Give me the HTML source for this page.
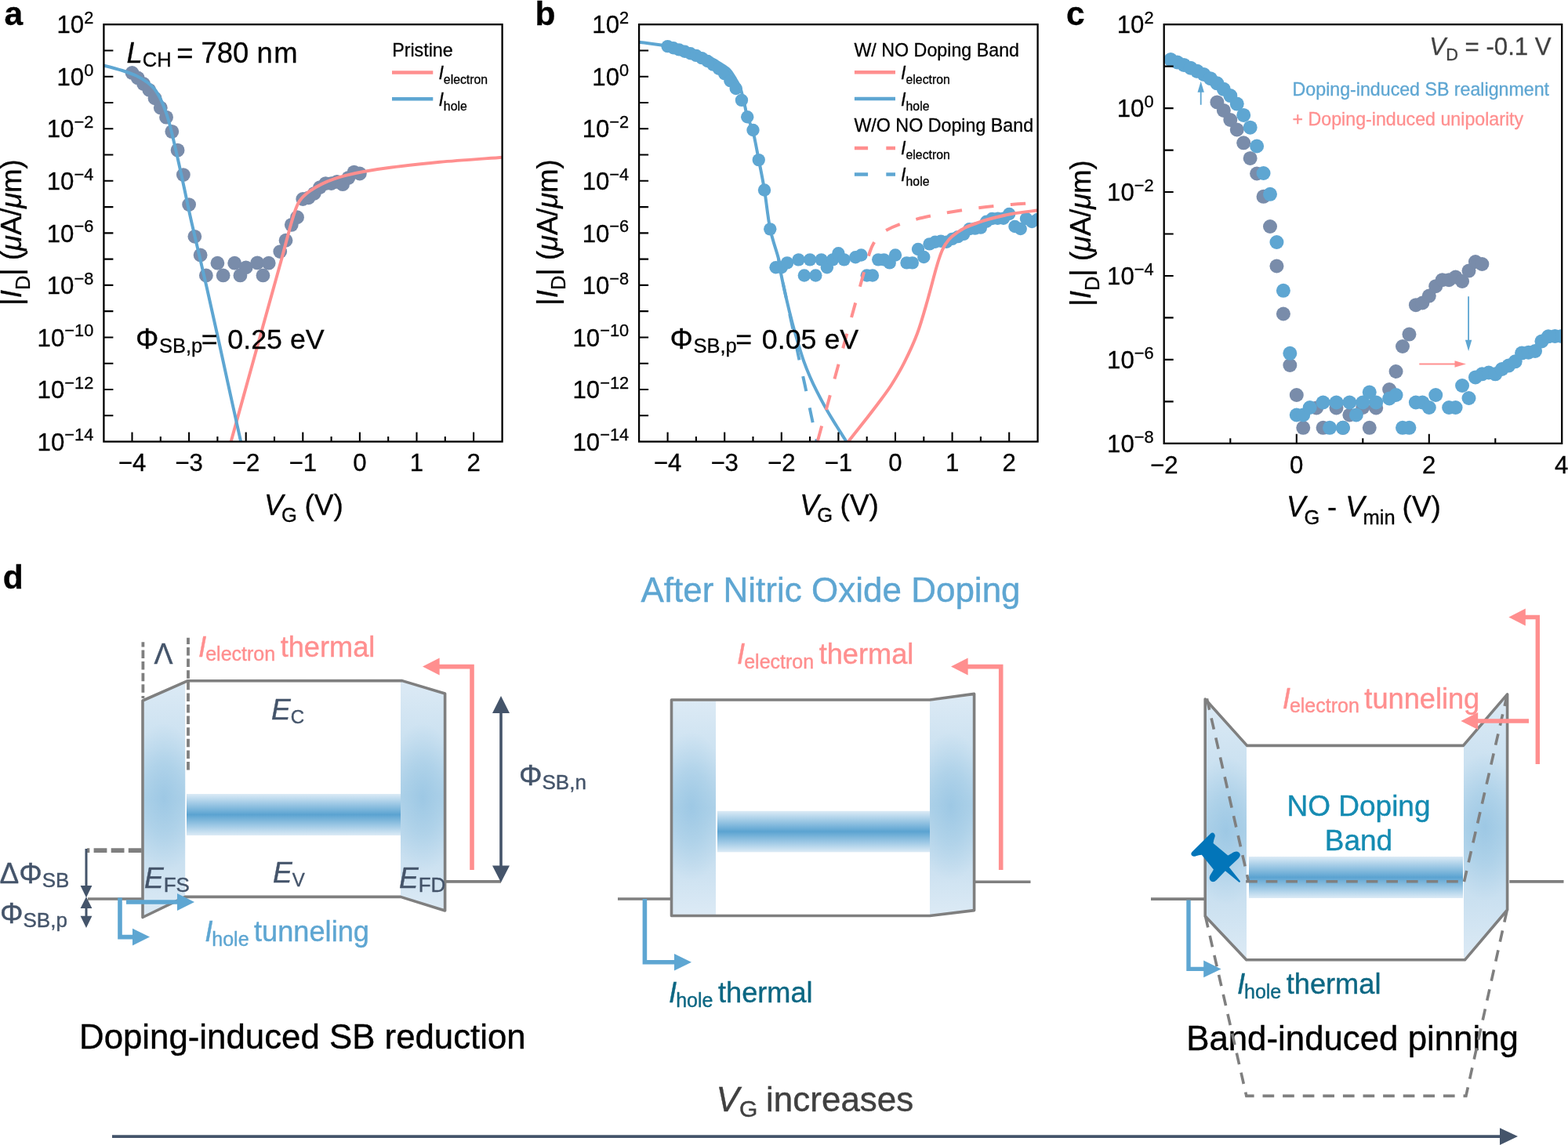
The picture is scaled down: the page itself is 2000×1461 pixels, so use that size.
<!DOCTYPE html>
<html lang="en"><head><meta charset="utf-8"><title>Figure</title>
<style>html,body{margin:0;padding:0;background:#fff}svg{display:block}text{font-family:'Liberation Sans', Arial, Helvetica, sans-serif;}</style></head><body>
<svg xmlns="http://www.w3.org/2000/svg" width="2000" height="1461" viewBox="0 0 2000 1461">
<defs>
<linearGradient id="band" x1="0" y1="0" x2="0" y2="1"><stop offset="0" stop-color="#DCEBF6"/><stop offset="0.22" stop-color="#A2CBE6"/><stop offset="0.5" stop-color="#5BA3D1"/><stop offset="0.78" stop-color="#A2CBE6"/><stop offset="1" stop-color="#DCEBF6"/></linearGradient>
<linearGradient id="cont" x1="0" y1="0" x2="0" y2="1"><stop offset="0" stop-color="#DCEAF5"/><stop offset="0.28" stop-color="#C9E0F0"/><stop offset="0.5" stop-color="#B3D4EA"/><stop offset="0.72" stop-color="#C6DEEF"/><stop offset="1" stop-color="#DCEAF5"/></linearGradient>
<radialGradient id="spot" cx="0.5" cy="0.5" r="0.5"><stop offset="0" stop-color="#98C5E3" stop-opacity="0.8"/><stop offset="0.5" stop-color="#9CC8E4" stop-opacity="0.45"/><stop offset="1" stop-color="#A4CCE6" stop-opacity="0"/></radialGradient>
<clipPath id="clipA"><rect x="132.4" y="31.2" width="508.2" height="532.3"/></clipPath>
<clipPath id="clipB"><rect x="815.1" y="31.2" width="508.5" height="532.3"/></clipPath>
<clipPath id="clipC"><rect x="1484.7" y="31.2" width="507.5" height="534.6"/></clipPath>
</defs>
<rect width="2000" height="1461" fill="#fff"/>
<g id="panel-a">
<g fill="#798CAA" clip-path="url(#clipA)">
<circle cx="168.5" cy="92.94" r="8.9"/><circle cx="175.76" cy="99.47" r="8.9"/><circle cx="183.02" cy="107" r="8.9"/><circle cx="190.28" cy="114.78" r="8.9"/><circle cx="197.54" cy="125.23" r="8.9"/><circle cx="204.8" cy="137.43" r="8.9"/><circle cx="212.06" cy="149.63" r="8.9"/><circle cx="219.32" cy="167.86" r="8.9"/><circle cx="226.58" cy="191.64" r="8.9"/><circle cx="233.84" cy="223.07" r="8.9"/><circle cx="241.1" cy="261.03" r="8.9"/><circle cx="248.36" cy="301.79" r="8.9"/><circle cx="255.62" cy="325.44" r="8.9"/><circle cx="262.88" cy="351.45" r="8.9"/><circle cx="277.4" cy="335.71" r="8.9"/><circle cx="284.66" cy="351.45" r="8.9"/><circle cx="299.18" cy="335.71" r="8.9"/><circle cx="306.44" cy="351.45" r="8.9"/><circle cx="313.7" cy="341.31" r="8.9"/><circle cx="328.22" cy="335.4" r="8.9"/><circle cx="335.48" cy="351.45" r="8.9"/><circle cx="342.74" cy="335.71" r="8.9"/><circle cx="357.26" cy="321.08" r="8.9"/><circle cx="364.52" cy="306.77" r="8.9"/><circle cx="371.78" cy="286.85" r="8.9"/><circle cx="379.04" cy="277.27" r="8.9"/><circle cx="386.3" cy="254" r="8.9"/><circle cx="393.56" cy="252.32" r="8.9"/><circle cx="400.82" cy="246.78" r="8.9"/><circle cx="408.08" cy="239.06" r="8.9"/><circle cx="415.34" cy="234.08" r="8.9"/><circle cx="422.6" cy="234.08" r="8.9"/><circle cx="429.86" cy="231.84" r="8.9"/><circle cx="437.12" cy="235.2" r="8.9"/><circle cx="444.38" cy="226.86" r="8.9"/><circle cx="451.64" cy="219.64" r="8.9"/><circle cx="458.9" cy="221.51" r="8.9"/>
</g>
<g clip-path="url(#clipA)" fill="none" stroke-width="4" stroke-linejoin="round">
<path d="M290,580 C290.77,577.25 290.35,578.83 294.6,563.5 C298.85,548.17 307.95,515.25 315.5,488 C323.05,460.75 334.05,421.08 339.9,400 C345.75,378.92 347.32,373.33 350.6,361.5 C353.88,349.67 357.08,338.25 359.6,329 C362.12,319.75 363.68,313.5 365.7,306 C367.72,298.5 369.95,290.08 371.7,284 C373.45,277.92 374.7,273.7 376.2,269.5 C377.7,265.3 378.95,261.92 380.7,258.8 C382.45,255.68 384.18,253.38 386.7,250.8 C389.22,248.22 391.78,246 395.8,243.3 C399.82,240.6 405.78,237.08 410.8,234.6 C415.82,232.12 420.87,230.18 425.9,228.4 C430.93,226.62 434.72,225.47 441,223.9 C447.28,222.33 453.82,220.72 463.6,219 C473.38,217.28 483.47,215.63 499.7,213.6 C515.93,211.57 537.45,208.95 561,206.8 C584.55,204.65 624.5,202 641,200.7 C657.5,199.4 656.83,199.28 660,199" stroke="#FF8F8F"/>
<path d="M125,82.2 C126.42,82.48 128.33,82.6 133.5,83.9 C138.67,85.2 149.25,87.85 156,90 C162.75,92.15 168.6,94.25 174,96.8 C179.4,99.35 184.5,102.43 188.4,105.3 C192.3,108.17 194.7,110.55 197.4,114 C200.1,117.45 202.5,121.92 204.6,126 C206.7,130.08 208.2,133.67 210,138.5 C211.8,143.33 213.6,148.67 215.4,155 C217.2,161.33 218.7,167.67 220.8,176.5 C222.9,185.33 225.6,197.25 228,208 C230.4,218.75 232.5,228.5 235.2,241 C237.9,253.5 239.4,261.83 244.2,283 C249,304.17 257.95,341.5 264,368 C270.05,394.5 275.5,419.33 280.5,442 C285.5,464.67 289.55,483.72 294,504 C298.45,524.28 304.37,550.87 307.2,563.7 C310.03,576.53 310.37,578.12 311,581" stroke="#5EA6D2"/>
</g>
<path d="M168.5,563.5 v-12 M241.1,563.5 v-12 M313.7,563.5 v-12 M386.3,563.5 v-12 M458.9,563.5 v-12 M531.5,563.5 v-12 M604.1,563.5 v-12 M204.8,563.5 v-6.5 M277.4,563.5 v-6.5 M350,563.5 v-6.5 M422.6,563.5 v-6.5 M495.2,563.5 v-6.5 M567.8,563.5 v-6.5 M132.4,64.47 h12 M132.4,97.74 h12 M132.4,131.01 h12 M132.4,164.28 h12 M132.4,197.55 h12 M132.4,230.82 h12 M132.4,264.09 h12 M132.4,297.36 h12 M132.4,330.63 h12 M132.4,363.9 h12 M132.4,397.17 h12 M132.4,430.44 h12 M132.4,463.71 h12 M132.4,496.98 h12 M132.4,530.25 h12" stroke="#000" stroke-width="2.1" fill="none"/>
<rect x="132.4" y="31.2" width="508.2" height="532.3" fill="none" stroke="#000" stroke-width="2.3"/>
<text x="119.3" y="42.4" font-size="31.2" text-anchor="end" stroke="#000" stroke-width="0.3">10<tspan font-size="21.8" dy="-12.4">2</tspan></text>
<text x="119.3" y="108.94" font-size="31.2" text-anchor="end" stroke="#000" stroke-width="0.3">10<tspan font-size="21.8" dy="-12.4">0</tspan></text>
<text x="119.3" y="175.48" font-size="31.2" text-anchor="end" stroke="#000" stroke-width="0.3">10<tspan font-size="21.8" dy="-12.4">−2</tspan></text>
<text x="119.3" y="242.02" font-size="31.2" text-anchor="end" stroke="#000" stroke-width="0.3">10<tspan font-size="21.8" dy="-12.4">−4</tspan></text>
<text x="119.3" y="308.56" font-size="31.2" text-anchor="end" stroke="#000" stroke-width="0.3">10<tspan font-size="21.8" dy="-12.4">−6</tspan></text>
<text x="119.3" y="375.1" font-size="31.2" text-anchor="end" stroke="#000" stroke-width="0.3">10<tspan font-size="21.8" dy="-12.4">−8</tspan></text>
<text x="119.3" y="441.64" font-size="31.2" text-anchor="end" stroke="#000" stroke-width="0.3">10<tspan font-size="21.8" dy="-12.4">−10</tspan></text>
<text x="119.3" y="508.18" font-size="31.2" text-anchor="end" stroke="#000" stroke-width="0.3">10<tspan font-size="21.8" dy="-12.4">−12</tspan></text>
<text x="119.3" y="574.72" font-size="31.2" text-anchor="end" stroke="#000" stroke-width="0.3">10<tspan font-size="21.8" dy="-12.4">−14</tspan></text>
<text x="168.5" y="601.2" font-size="31.2" text-anchor="middle" stroke="#000" stroke-width="0.3">−4</text>
<text x="241.1" y="601.2" font-size="31.2" text-anchor="middle" stroke="#000" stroke-width="0.3">−3</text>
<text x="313.7" y="601.2" font-size="31.2" text-anchor="middle" stroke="#000" stroke-width="0.3">−2</text>
<text x="386.3" y="601.2" font-size="31.2" text-anchor="middle" stroke="#000" stroke-width="0.3">−1</text>
<text x="458.9" y="601.2" font-size="31.2" text-anchor="middle" stroke="#000" stroke-width="0.3">0</text>
<text x="531.5" y="601.2" font-size="31.2" text-anchor="middle" stroke="#000" stroke-width="0.3">1</text>
<text x="604.1" y="601.2" font-size="31.2" text-anchor="middle" stroke="#000" stroke-width="0.3">2</text>
<text transform="translate(27.2,296.5) rotate(-90)" font-size="36.4" text-anchor="middle" stroke="#000" stroke-width="0.3">|<tspan font-style="italic">I</tspan><tspan font-size="25.5" dy="10.5">D</tspan><tspan dy="-10.5">| (</tspan><tspan font-style="italic">μ</tspan>A/<tspan font-style="italic">μ</tspan>m)</text>
<text x="337.1" y="657" font-size="36.4" stroke="#000" stroke-width="0.3"><tspan font-style="italic">V</tspan><tspan font-size="25.5" dy="9.3" dx="-2.3">G</tspan><tspan font-size="37" dy="-9.3" dx="-0.7"> (V)</tspan></text>
<text x="5.4" y="32" font-size="42.5" font-weight="bold" stroke="#000" stroke-width="0.3">a</text>
<text x="161.6" y="79.6" font-size="36.4" stroke="#000" stroke-width="0.3"><tspan font-style="italic">L</tspan><tspan font-size="25.5" dy="5.4">CH</tspan><tspan dy="-5.4" dx="6.5">= 780 n</tspan><tspan dx="1.5">m</tspan></text>
<text x="173.1" y="445.3" font-size="36.8" stroke="#000" stroke-width="0.3">Φ<tspan font-size="25.5" dy="4.8" dx="0.5">SB,p</tspan><tspan font-size="35.8" dy="-4.8" dx="-1.4">= </tspan><tspan font-size="35.8" dx="2.6">0.25 eV</tspan></text>
<text x="500.2" y="71.7" font-size="23.25" stroke="#000" stroke-width="0.3">Pristine</text>
<path d="M500,92.4 h52.3" stroke="#FF8F8F" stroke-width="4.5"/>
<path d="M500,126.2 h52.3" stroke="#5EA6D2" stroke-width="4.5"/>
<text x="559.4" y="101.2" font-size="23.25" stroke="#000" stroke-width="0.3"><tspan font-style="italic">I</tspan><tspan font-size="15.8" dy="5.8">electron</tspan></text>
<text x="559.4" y="135.0" font-size="23.25" stroke="#000" stroke-width="0.3"><tspan font-style="italic">I</tspan><tspan font-size="15.8" dy="5.8">hole</tspan></text>
</g>
<g id="panel-b">
<g fill="#5EA6D2" clip-path="url(#clipB)">
<circle cx="851.6" cy="59.14" r="8.2"/><circle cx="858.86" cy="61.26" r="8.2"/><circle cx="866.12" cy="63.37" r="8.2"/><circle cx="873.38" cy="65.74" r="8.2"/><circle cx="880.64" cy="68.29" r="8.2"/><circle cx="887.9" cy="70.9" r="8.2"/><circle cx="895.16" cy="74.14" r="8.2"/><circle cx="902.42" cy="77.94" r="8.2"/><circle cx="909.68" cy="82.6" r="8.2"/><circle cx="916.94" cy="87.77" r="8.2"/><circle cx="924.2" cy="94.3" r="8.2"/><circle cx="931.46" cy="103.2" r="8.2"/><circle cx="938.72" cy="113.04" r="8.2"/><circle cx="945.98" cy="127.85" r="8.2"/><circle cx="953.24" cy="149.32" r="8.2"/><circle cx="960.5" cy="166" r="8.2"/><circle cx="967.76" cy="204.08" r="8.2"/><circle cx="975.02" cy="242.54" r="8.2"/><circle cx="982.28" cy="292.33" r="8.2"/><circle cx="989.54" cy="341.31" r="8.2"/><circle cx="996.8" cy="341.31" r="8.2"/><circle cx="1004.06" cy="335.4" r="8.2"/><circle cx="1018.58" cy="331.35" r="8.2"/><circle cx="1025.84" cy="351.45" r="8.2"/><circle cx="1033.1" cy="331.35" r="8.2"/><circle cx="1040.36" cy="351.45" r="8.2"/><circle cx="1047.62" cy="331.35" r="8.2"/><circle cx="1054.88" cy="341.31" r="8.2"/><circle cx="1062.14" cy="331.35" r="8.2"/><circle cx="1069.4" cy="323.26" r="8.2"/><circle cx="1076.66" cy="331.35" r="8.2"/><circle cx="1091.18" cy="328.24" r="8.2"/><circle cx="1098.44" cy="325.44" r="8.2"/><circle cx="1105.7" cy="351.45" r="8.2"/><circle cx="1112.96" cy="351.45" r="8.2"/><circle cx="1120.22" cy="331.35" r="8.2"/><circle cx="1127.48" cy="331.35" r="8.2"/><circle cx="1134.74" cy="335.4" r="8.2"/><circle cx="1142" cy="325.44" r="8.2"/><circle cx="1156.52" cy="335.4" r="8.2"/><circle cx="1163.78" cy="335.4" r="8.2"/><circle cx="1171.04" cy="317.97" r="8.2"/><circle cx="1178.3" cy="327.93" r="8.2"/><circle cx="1185.56" cy="311.37" r="8.2"/><circle cx="1192.82" cy="308.82" r="8.2"/><circle cx="1200.08" cy="307.7" r="8.2"/><circle cx="1207.34" cy="308.82" r="8.2"/><circle cx="1214.6" cy="304.9" r="8.2"/><circle cx="1221.86" cy="302.16" r="8.2"/><circle cx="1229.12" cy="298.87" r="8.2"/><circle cx="1236.38" cy="292.21" r="8.2"/><circle cx="1243.64" cy="291.65" r="8.2"/><circle cx="1250.9" cy="290.59" r="8.2"/><circle cx="1258.16" cy="282.81" r="8.2"/><circle cx="1265.42" cy="278.95" r="8.2"/><circle cx="1272.68" cy="278.7" r="8.2"/><circle cx="1279.94" cy="278.7" r="8.2"/><circle cx="1287.2" cy="273" r="8.2"/><circle cx="1294.46" cy="289" r="8.2"/><circle cx="1301.72" cy="292" r="8.2"/><circle cx="1308.98" cy="279" r="8.2"/><circle cx="1316.24" cy="283" r="8.2"/><circle cx="1323.5" cy="280" r="8.2"/>
</g>
<g clip-path="url(#clipB)" fill="none" stroke-width="4" stroke-linejoin="round">
<path d="M993,330 C993.48,333 994.23,339.5 995.9,348 C997.57,356.5 1000.65,370.08 1003,381 C1005.35,391.92 1008.08,404.5 1010,413.5 C1011.92,422.5 1013.02,427.83 1014.5,435 C1015.98,442.17 1016.95,447.45 1018.9,456.5 C1020.85,465.55 1023.6,477.25 1026.2,489.3 C1028.8,501.35 1031.9,516.43 1034.5,528.8 C1037.1,541.17 1040.05,555.13 1041.8,563.5 C1043.55,571.87 1044.47,576.42 1045,579" stroke="#5EA6D2" stroke-dasharray="19.3 21.4" stroke-dashoffset="9.25"/>
<path d="M805,52.3 C806.67,52.53 807.23,52.67 815,53.7 C822.77,54.73 841.6,57.03 851.6,58.5 C861.6,59.97 868.93,61.22 875,62.5 C881.07,63.78 883.73,64.78 888,66.2 C892.27,67.62 897.08,69.48 900.6,71 C904.12,72.52 906.03,73.6 909.1,75.3 C912.17,77 915.74,79.17 919,81.2 C922.26,83.23 926.25,85.51 928.65,87.5 C931.05,89.49 931.79,90.9 933.4,93.15 C935.01,95.4 937,98.88 938.3,101 C939.6,103.12 940.15,103.87 941.2,105.9 C942.25,107.93 943.55,110.18 944.6,113.2 C945.65,116.22 946.52,120.03 947.5,124 C948.48,127.97 949.53,132.78 950.5,137 C951.47,141.22 951.63,144.13 953.3,149.3 C954.97,154.47 958.08,158.88 960.5,168 C962.92,177.12 965.38,191.67 967.8,204 C970.22,216.33 972.58,227.33 975,242 C977.42,256.67 979.3,277.33 982.3,292 C985.3,306.67 990.73,320.67 993,330 C995.27,339.33 994.23,339.5 995.9,348 C997.57,356.5 1000.55,370.32 1003,381 C1005.45,391.68 1008.1,402.6 1010.6,412.1 C1013.1,421.6 1015.53,429.78 1018,438 C1020.47,446.22 1022.9,454.32 1025.4,461.4 C1027.9,468.48 1030.27,474.2 1033,480.5 C1035.73,486.8 1038.13,491.98 1041.8,499.2 C1045.47,506.42 1050.8,516.42 1055,523.8 C1059.2,531.18 1062.9,536.88 1067,543.5 C1071.1,550.12 1075.93,557.75 1079.6,563.5 C1083.27,569.25 1087.43,575.58 1089,578" stroke="#5EA6D2"/>
<path d="M1038.3,579 C1039.03,576.42 1037.08,584 1042.7,563.5 C1048.32,543 1062.15,491.92 1072,456 C1081.85,420.08 1096.13,368.5 1101.8,348 C1107.47,327.5 1104.63,337.67 1106,333 C1107.37,328.33 1108.67,323.67 1110,320 C1111.33,316.33 1112.17,314.17 1114,311 C1115.83,307.83 1118.33,303.83 1121,301 C1123.67,298.17 1125.5,296.5 1130,294 C1134.5,291.5 1141.33,288.43 1148,286 C1154.67,283.57 1163.33,281.18 1170,279.4 C1176.67,277.62 1181.33,276.7 1188,275.3 C1194.67,273.9 1199.67,272.72 1210,271 C1220.33,269.28 1236.67,266.67 1250,265 C1263.33,263.33 1280,261.9 1290,261 C1300,260.1 1306.67,259.83 1310,259.6" stroke="#FF8F8F" stroke-dasharray="19.3 21.4" stroke-dashoffset="23.15"/>
<path d="M1072,578 C1073.68,575.58 1076.72,570.62 1082.1,563.5 C1087.48,556.38 1097.82,543.63 1104.3,535.3 C1110.78,526.97 1115.53,520.88 1121,513.5 C1126.47,506.12 1131.68,499.52 1137.1,491 C1142.52,482.48 1148.02,473.32 1153.5,462.4 C1158.98,451.48 1165.07,438.73 1170,425.5 C1174.93,412.27 1179.35,395.92 1183.1,383 C1186.85,370.08 1190.1,356.67 1192.5,348 C1194.9,339.33 1196,335.67 1197.5,331 C1199,326.33 1200.08,323.25 1201.5,320 C1202.92,316.75 1203.92,314.5 1206,311.5 C1208.08,308.5 1210,305.42 1214,302 C1218,298.58 1224.83,293.83 1230,291 C1235.17,288.17 1240,286.83 1245,285 C1250,283.17 1252.5,282 1260,280 C1267.5,278 1279.5,274.92 1290,273 C1300.5,271.08 1314.67,269.58 1323,268.5 C1331.33,267.42 1337.17,266.83 1340,266.5" stroke="#FF8F8F"/>
</g>
<path d="M851.6,563.5 v-12 M924.2,563.5 v-12 M996.8,563.5 v-12 M1069.4,563.5 v-12 M1142,563.5 v-12 M1214.6,563.5 v-12 M1287.2,563.5 v-12 M887.9,563.5 v-6.5 M960.5,563.5 v-6.5 M1033.1,563.5 v-6.5 M1105.7,563.5 v-6.5 M1178.3,563.5 v-6.5 M1250.9,563.5 v-6.5 M815.1,64.47 h12 M815.1,97.74 h12 M815.1,131.01 h12 M815.1,164.28 h12 M815.1,197.55 h12 M815.1,230.82 h12 M815.1,264.09 h12 M815.1,297.36 h12 M815.1,330.63 h12 M815.1,363.9 h12 M815.1,397.17 h12 M815.1,430.44 h12 M815.1,463.71 h12 M815.1,496.98 h12 M815.1,530.25 h12" stroke="#000" stroke-width="2.1" fill="none"/>
<rect x="815.1" y="31.2" width="508.5" height="532.3" fill="none" stroke="#000" stroke-width="2.3"/>
<text x="802.2" y="42.4" font-size="31.2" text-anchor="end" stroke="#000" stroke-width="0.3">10<tspan font-size="21.8" dy="-12.4">2</tspan></text>
<text x="802.2" y="108.94" font-size="31.2" text-anchor="end" stroke="#000" stroke-width="0.3">10<tspan font-size="21.8" dy="-12.4">0</tspan></text>
<text x="802.2" y="175.48" font-size="31.2" text-anchor="end" stroke="#000" stroke-width="0.3">10<tspan font-size="21.8" dy="-12.4">−2</tspan></text>
<text x="802.2" y="242.02" font-size="31.2" text-anchor="end" stroke="#000" stroke-width="0.3">10<tspan font-size="21.8" dy="-12.4">−4</tspan></text>
<text x="802.2" y="308.56" font-size="31.2" text-anchor="end" stroke="#000" stroke-width="0.3">10<tspan font-size="21.8" dy="-12.4">−6</tspan></text>
<text x="802.2" y="375.1" font-size="31.2" text-anchor="end" stroke="#000" stroke-width="0.3">10<tspan font-size="21.8" dy="-12.4">−8</tspan></text>
<text x="802.2" y="441.64" font-size="31.2" text-anchor="end" stroke="#000" stroke-width="0.3">10<tspan font-size="21.8" dy="-12.4">−10</tspan></text>
<text x="802.2" y="508.18" font-size="31.2" text-anchor="end" stroke="#000" stroke-width="0.3">10<tspan font-size="21.8" dy="-12.4">−12</tspan></text>
<text x="802.2" y="574.72" font-size="31.2" text-anchor="end" stroke="#000" stroke-width="0.3">10<tspan font-size="21.8" dy="-12.4">−14</tspan></text>
<text x="851.6" y="601.2" font-size="31.2" text-anchor="middle" stroke="#000" stroke-width="0.3">−4</text>
<text x="924.2" y="601.2" font-size="31.2" text-anchor="middle" stroke="#000" stroke-width="0.3">−3</text>
<text x="996.8" y="601.2" font-size="31.2" text-anchor="middle" stroke="#000" stroke-width="0.3">−2</text>
<text x="1069.4" y="601.2" font-size="31.2" text-anchor="middle" stroke="#000" stroke-width="0.3">−1</text>
<text x="1142" y="601.2" font-size="31.2" text-anchor="middle" stroke="#000" stroke-width="0.3">0</text>
<text x="1214.6" y="601.2" font-size="31.2" text-anchor="middle" stroke="#000" stroke-width="0.3">1</text>
<text x="1287.2" y="601.2" font-size="31.2" text-anchor="middle" stroke="#000" stroke-width="0.3">2</text>
<text transform="translate(710.5,296.5) rotate(-90)" font-size="36.4" text-anchor="middle" stroke="#000" stroke-width="0.3">|<tspan font-style="italic">I</tspan><tspan font-size="25.5" dy="10.5">D</tspan><tspan dy="-10.5">| (</tspan><tspan font-style="italic">μ</tspan>A/<tspan font-style="italic">μ</tspan>m)</text>
<text x="1020.2" y="657" font-size="36.4" stroke="#000" stroke-width="0.3"><tspan font-style="italic">V</tspan><tspan font-size="25.5" dy="9.3" dx="-2.3">G</tspan><tspan font-size="37" dy="-9.3" dx="-0.7"> (V)</tspan></text>
<text x="682.5" y="32" font-size="42.5" font-weight="bold" stroke="#000" stroke-width="0.3">b</text>
<text x="854.6" y="445.3" font-size="36.8" stroke="#000" stroke-width="0.3">Φ<tspan font-size="25.5" dy="4.8" dx="0.5">SB,p</tspan><tspan font-size="35.8" dy="-4.8" dx="-1.4">= </tspan><tspan font-size="35.8" dx="2.6">0.05 eV</tspan></text>
<text x="1089.4" y="71.7" font-size="23.25" stroke="#000" stroke-width="0.3">W/ NO Doping Band</text>
<text x="1089.4" y="168.1" font-size="23.25" stroke="#000" stroke-width="0.3">W/O NO Doping Band</text>
<path d="M1089.9,92.2 h52.1" stroke="#FF8F8F" stroke-width="4.5"/>
<path d="M1089.9,126.1 h52.1" stroke="#5EA6D2" stroke-width="4.5"/>
<path d="M1089.9,188.9 h52.1" stroke="#FF8F8F" stroke-width="4.5" stroke-dasharray="17.2 23.2"/>
<path d="M1089.9,222.5 h52.1" stroke="#5EA6D2" stroke-width="4.5" stroke-dasharray="17.2 23.2"/>
<text x="1149.1" y="100.8" font-size="23.25" stroke="#000" stroke-width="0.3"><tspan font-style="italic">I</tspan><tspan font-size="15.8" dy="5.8">electron</tspan></text>
<text x="1149.1" y="134.7" font-size="23.25" stroke="#000" stroke-width="0.3"><tspan font-style="italic">I</tspan><tspan font-size="15.8" dy="5.8">hole</tspan></text>
<text x="1149.1" y="197.2" font-size="23.25" stroke="#000" stroke-width="0.3"><tspan font-style="italic">I</tspan><tspan font-size="15.8" dy="5.8">electron</tspan></text>
<text x="1149.1" y="231" font-size="23.25" stroke="#000" stroke-width="0.3"><tspan font-style="italic">I</tspan><tspan font-size="15.8" dy="5.8">hole</tspan></text>
</g>
<g id="panel-c">
<g fill="#798CAA" clip-path="url(#clipC)">
<circle cx="1552.4" cy="130.4" r="9"/><circle cx="1560.85" cy="140.9" r="9"/><circle cx="1569.3" cy="153" r="9"/><circle cx="1577.75" cy="165.5" r="9"/><circle cx="1586.2" cy="182.3" r="9"/><circle cx="1594.65" cy="201.9" r="9"/><circle cx="1603.1" cy="221.5" r="9"/><circle cx="1611.55" cy="250.8" r="9"/><circle cx="1620" cy="289" r="9"/><circle cx="1628.45" cy="339.5" r="9"/><circle cx="1636.9" cy="400.5" r="9"/><circle cx="1645.35" cy="466" r="9"/><circle cx="1653.8" cy="504" r="9"/><circle cx="1662.25" cy="545.8" r="9"/><circle cx="1679.15" cy="520.5" r="9"/><circle cx="1687.6" cy="545.8" r="9"/><circle cx="1704.5" cy="520.5" r="9"/><circle cx="1712.95" cy="545.8" r="9"/><circle cx="1721.4" cy="529.5" r="9"/><circle cx="1738.3" cy="520" r="9"/><circle cx="1746.75" cy="545.8" r="9"/><circle cx="1755.2" cy="520.5" r="9"/><circle cx="1772.1" cy="497" r="9"/><circle cx="1780.55" cy="474" r="9"/><circle cx="1789" cy="442" r="9"/><circle cx="1797.45" cy="426.6" r="9"/><circle cx="1805.9" cy="389.2" r="9"/><circle cx="1814.35" cy="386.5" r="9"/><circle cx="1822.8" cy="377.6" r="9"/><circle cx="1831.25" cy="365.2" r="9"/><circle cx="1839.7" cy="357.2" r="9"/><circle cx="1848.15" cy="357.2" r="9"/><circle cx="1856.6" cy="353.6" r="9"/><circle cx="1865.05" cy="359" r="9"/><circle cx="1873.5" cy="345.6" r="9"/><circle cx="1881.95" cy="334" r="9"/><circle cx="1890.4" cy="337" r="9"/>
</g>
<g fill="#5EA6D2" clip-path="url(#clipC)">
<circle cx="1493.25" cy="76.1" r="9"/><circle cx="1501.7" cy="79.5" r="9"/><circle cx="1510.15" cy="82.9" r="9"/><circle cx="1518.6" cy="86.7" r="9"/><circle cx="1527.05" cy="90.8" r="9"/><circle cx="1535.5" cy="95" r="9"/><circle cx="1543.95" cy="100.2" r="9"/><circle cx="1552.4" cy="106.3" r="9"/><circle cx="1560.85" cy="113.8" r="9"/><circle cx="1569.3" cy="122.1" r="9"/><circle cx="1577.75" cy="132.6" r="9"/><circle cx="1586.2" cy="146.9" r="9"/><circle cx="1594.65" cy="162.7" r="9"/><circle cx="1603.1" cy="186.5" r="9"/><circle cx="1611.55" cy="221" r="9"/><circle cx="1620" cy="247.8" r="9"/><circle cx="1628.45" cy="309" r="9"/><circle cx="1636.9" cy="370.8" r="9"/><circle cx="1645.35" cy="450.8" r="9"/><circle cx="1653.8" cy="529.5" r="9"/><circle cx="1662.25" cy="529.5" r="9"/><circle cx="1670.7" cy="520" r="9"/><circle cx="1687.6" cy="513.5" r="9"/><circle cx="1696.05" cy="545.8" r="9"/><circle cx="1704.5" cy="513.5" r="9"/><circle cx="1712.95" cy="545.8" r="9"/><circle cx="1721.4" cy="513.5" r="9"/><circle cx="1729.85" cy="529.5" r="9"/><circle cx="1738.3" cy="513.5" r="9"/><circle cx="1746.75" cy="500.5" r="9"/><circle cx="1755.2" cy="513.5" r="9"/><circle cx="1772.1" cy="508.5" r="9"/><circle cx="1780.55" cy="504" r="9"/><circle cx="1789" cy="545.8" r="9"/><circle cx="1797.45" cy="545.8" r="9"/><circle cx="1805.9" cy="513.5" r="9"/><circle cx="1814.35" cy="513.5" r="9"/><circle cx="1822.8" cy="520" r="9"/><circle cx="1831.25" cy="504" r="9"/><circle cx="1848.15" cy="520" r="9"/><circle cx="1856.6" cy="520" r="9"/><circle cx="1865.05" cy="492" r="9"/><circle cx="1873.5" cy="508" r="9"/><circle cx="1881.95" cy="481.4" r="9"/><circle cx="1890.4" cy="477.3" r="9"/><circle cx="1898.85" cy="475.5" r="9"/><circle cx="1907.3" cy="477.3" r="9"/><circle cx="1915.75" cy="471" r="9"/><circle cx="1924.2" cy="466.6" r="9"/><circle cx="1932.65" cy="461.3" r="9"/><circle cx="1941.1" cy="450.6" r="9"/><circle cx="1949.55" cy="449.7" r="9"/><circle cx="1958" cy="448" r="9"/><circle cx="1966.45" cy="435.5" r="9"/><circle cx="1974.9" cy="429.3" r="9"/><circle cx="1983.35" cy="428.9" r="9"/><circle cx="1991.8" cy="428.9" r="9"/>
</g>
<g fill="#5EA6D2" stroke="none">
<path d="M1530.8,133.7 h1.8 v-16 h3.3 l-4.2,-14 l-4.2,14 h3.3 z"/>
<path d="M1872.2,378.2 h1.8 v55.5 h3.3 l-4.2,14.4 l-4.2,-14.4 h3.3 z"/>
</g>
<path d="M1810.3,463.6 h45.2 v-3.3 l14.4,4.2 l-14.4,4.2 v-3.3 h-45.2 z" fill="#FF8F8F"/>
<path d="M1653.8,565.8 v-12 M1822.8,565.8 v-12 M1569.3,565.8 v-6.5 M1738.3,565.8 v-6.5 M1907.3,565.8 v-6.5 M1484.7,84.66 h12 M1484.7,138.12 h12 M1484.7,191.58 h12 M1484.7,245.04 h12 M1484.7,298.5 h12 M1484.7,351.96 h12 M1484.7,405.42 h12 M1484.7,458.88 h12 M1484.7,512.34 h12" stroke="#000" stroke-width="2.1" fill="none"/>
<rect x="1484.7" y="31.2" width="507.5" height="534.6" fill="none" stroke="#000" stroke-width="2.3"/>
<text x="1471.6" y="42.4" font-size="31.2" text-anchor="end" stroke="#000" stroke-width="0.3">10<tspan font-size="21.8" dy="-12.4">2</tspan></text>
<text x="1471.6" y="149.32" font-size="31.2" text-anchor="end" stroke="#000" stroke-width="0.3">10<tspan font-size="21.8" dy="-12.4">0</tspan></text>
<text x="1471.6" y="256.24" font-size="31.2" text-anchor="end" stroke="#000" stroke-width="0.3">10<tspan font-size="21.8" dy="-12.4">−2</tspan></text>
<text x="1471.6" y="363.16" font-size="31.2" text-anchor="end" stroke="#000" stroke-width="0.3">10<tspan font-size="21.8" dy="-12.4">−4</tspan></text>
<text x="1471.6" y="470.08" font-size="31.2" text-anchor="end" stroke="#000" stroke-width="0.3">10<tspan font-size="21.8" dy="-12.4">−6</tspan></text>
<text x="1471.6" y="577" font-size="31.2" text-anchor="end" stroke="#000" stroke-width="0.3">10<tspan font-size="21.8" dy="-12.4">−8</tspan></text>
<text x="1484.8" y="603.6" font-size="31.2" text-anchor="middle" stroke="#000" stroke-width="0.3">−2</text>
<text x="1653.8" y="603.6" font-size="31.2" text-anchor="middle" stroke="#000" stroke-width="0.3">0</text>
<text x="1822.8" y="603.6" font-size="31.2" text-anchor="middle" stroke="#000" stroke-width="0.3">2</text>
<text x="1991.8" y="603.6" font-size="31.2" text-anchor="middle" stroke="#000" stroke-width="0.3">4</text>
<text transform="translate(1391.2,297.5) rotate(-90)" font-size="36.4" text-anchor="middle" stroke="#000" stroke-width="0.3">|<tspan font-style="italic">I</tspan><tspan font-size="25.5" dy="10.5">D</tspan><tspan dy="-10.5">| (</tspan><tspan font-style="italic">μ</tspan>A/<tspan font-style="italic">μ</tspan>m)</text>
<text x="1640.9" y="659" font-size="36.4" stroke="#000" stroke-width="0.3"><tspan font-style="italic">V</tspan><tspan font-size="25.5" dy="9.6" dx="-1.7">G</tspan><tspan dy="-9.6" dx="-0.4"> - </tspan><tspan font-style="italic" dx="1">V</tspan><tspan font-size="25.5" dy="9.6" dx="-2">min</tspan><tspan font-size="37" dy="-9.6" dx="-1.3"> (V)</tspan></text>
<text x="1360" y="32" font-size="42.5" font-weight="bold" stroke="#000" stroke-width="0.3">c</text>
<text x="1978.7" y="69.5" font-size="31.2" fill="#404040" text-anchor="end" stroke="#404040" stroke-width="0.3"><tspan font-style="italic">V</tspan><tspan font-size="21.8" dy="7">D</tspan><tspan dy="-7"> = -0.1 V</tspan></text>
<text x="1648.6" y="122.1" font-size="23.2" fill="#5EA6D2" stroke="#5EA6D2" stroke-width="0.3">Doping-induced SB realignment</text>
<text x="1648.6" y="160" font-size="23.2" fill="#FF8F8F" stroke="#FF8F8F" stroke-width="0.3">+ Doping-induced unipolarity</text>
</g>
<g id="panel-d">
<text x="3.8" y="750.5" font-size="42.5" font-weight="bold" stroke="#000" stroke-width="0.4">d</text>
<text x="1059.5" y="767.8" font-size="44" fill="#5EA6D2" text-anchor="middle" stroke="#5EA6D2" stroke-width="0.4">After Nitric Oxide Doping</text>
<text x="101" y="1338" font-size="43.8" stroke="#000" stroke-width="0.4">Doping-induced SB reduction</text>
<text x="1513.2" y="1340.4" font-size="43.8" stroke="#000" stroke-width="0.4">Band-induced pinning</text>
<text x="913.6" y="1417.8" font-size="44" fill="#404040" stroke="#404040" stroke-width="0.4"><tspan font-style="italic">V</tspan><tspan font-size="30" dy="7.6">G</tspan><tspan dy="-7.6" dx="-1.5"> increases</tspan></text>
<path d="M143,1450.1 H1914" stroke="#44546A" stroke-width="3.6" fill="none"/>
<path d="M1913,1439.2 L1936,1450.1 L1913,1461 z" fill="#44546A"/>
<path d="M183.5,894 L236.2,870 L236.2,1144.5 L183.5,1169.5 z" fill="url(#cont)"/>
<clipPath id="cl133"><path d="M183.5,894 L236.2,870 L236.2,1144.5 L183.5,1169.5 z"/></clipPath>
<ellipse cx="209" cy="1018" rx="46" ry="95" fill="url(#spot)" clip-path="url(#cl133)"/>
<path d="M511,869.5 L566.5,885.5 L566.5,1161.5 L511,1144.5 z" fill="url(#cont)"/>
<clipPath id="cl136"><path d="M511,869.5 L566.5,885.5 L566.5,1161.5 L511,1144.5 z"/></clipPath>
<ellipse cx="539" cy="1018" rx="46" ry="95" fill="url(#spot)" clip-path="url(#cl136)"/>
<rect x="238" y="1013" width="273" height="53" fill="url(#band)"/>
<path d="M182,1170.5 L182,894 L239,868.8 L513,868.6 L567.6,885 L567.6,1162 L511,1144.4 L236,1144.4 z" fill="none" stroke="#7F7F7F" stroke-width="3.6" stroke-linejoin="round"/>
<path d="M182.4,819.2 V891" fill="none" stroke="#7F7F7F" stroke-width="3.8" stroke-dasharray="10.5 4.1" stroke-dashoffset="4.3"/>
<path d="M240,813.7 V984.3" fill="none" stroke="#7F7F7F" stroke-width="3.8" stroke-dasharray="10.5 4.1" stroke-dashoffset="2.3"/>
<path d="M112,1147 H182 M569,1124.9 H639" fill="none" stroke="#7F7F7F" stroke-width="3.6"/>
<path d="M180.6,1085.1 H111" fill="none" stroke="#7F7F7F" stroke-width="5.7" stroke-dasharray="16.8 5.3"/>
<g fill="#44546A" stroke="#44546A">
<path d="M110,1083 V1131" stroke-width="3" fill="none"/>
<path d="M102.6,1129.9 h14.8 L110,1145.2 z" stroke="none"/>
<path d="M110,1158 V1170" stroke-width="3" fill="none"/>
<path d="M102.6,1159 h14.8 L110,1144.2 z M102.6,1168.7 h14.8 L110,1184 z" stroke="none"/>
<path d="M639,908 V1106" stroke-width="3.6" fill="none"/>
<path d="M628,910 h22 L639,888 z M628,1104.4 h22 L639,1126 z" stroke="none"/>
</g>
<path d="M602,1110 V850.6 H559" fill="none" stroke="#FF8F8F" stroke-width="5.6"/>
<path d="M560.6,839.6 v22 L539,850.6 z" fill="#FF8F8F"/>
<path d="M161,1151 H227" fill="none" stroke="#5EA6D2" stroke-width="5.6"/>
<path d="M226,1140 v22 L248,1151 z" fill="#5EA6D2"/>
<path d="M153,1145.6 V1195.6 H170" fill="none" stroke="#5EA6D2" stroke-width="5.6"/>
<path d="M169,1184.8 v21.6 L191,1195.6 z" fill="#5EA6D2"/>
<text x="196.5" y="847" font-size="36" fill="#44546A" stroke="#44546A" stroke-width="0.4">Λ</text>
<text x="253.1" y="837.6" font-size="36.6" fill="#FF8F8F" stroke="#FF8F8F" stroke-width="0.4"><tspan font-style="italic">I</tspan><tspan font-size="25" dy="5.7" dx="-1.07">electron</tspan><tspan font-size="36.2" dy="-5.7" dx="6.5">thermal</tspan></text>
<text x="261.2" y="1201" font-size="36.6" fill="#5EA6D2" stroke="#5EA6D2" stroke-width="0.4"><tspan font-style="italic">I</tspan><tspan font-size="25" dy="5.7" dx="-1.07">hole</tspan><tspan font-size="36.2" dy="-5.7" dx="6.5">tunneling</tspan></text>
<text x="346" y="918" font-size="37" fill="#44546A" stroke="#44546A" stroke-width="0.4"><tspan font-style="italic">E</tspan><tspan font-size="24" dy="5">C</tspan></text>
<text x="348" y="1126" font-size="37" fill="#44546A" stroke="#44546A" stroke-width="0.4"><tspan font-style="italic">E</tspan><tspan font-size="24" dy="5">V</tspan></text>
<text x="184" y="1133" font-size="37" fill="#44546A" stroke="#44546A" stroke-width="0.4"><tspan font-style="italic">E</tspan><tspan font-size="26" dy="5">FS</tspan></text>
<text x="509" y="1133" font-size="37" fill="#44546A" stroke="#44546A" stroke-width="0.4"><tspan font-style="italic">E</tspan><tspan font-size="26" dy="5">FD</tspan></text>
<text x="662" y="1002" font-size="37" fill="#44546A" stroke="#44546A" stroke-width="0.4"><tspan>Φ</tspan><tspan font-size="26" dy="4.5">SB,n</tspan></text>
<text x="-0.5" y="1127" font-size="37" fill="#44546A" stroke="#44546A" stroke-width="0.4"><tspan>ΔΦ</tspan><tspan font-size="26" dy="5">SB</tspan></text>
<text x="0" y="1178" font-size="37" fill="#44546A" stroke="#44546A" stroke-width="0.4"><tspan>Φ</tspan><tspan font-size="26" dy="4.5">SB,p</tspan></text>
<path d="M858,894.5 L913,894.5 L913,1167 L858,1167 z" fill="url(#cont)"/>
<clipPath id="cl169"><path d="M858,894.5 L913,894.5 L913,1167 L858,1167 z"/></clipPath>
<ellipse cx="882" cy="1029" rx="46" ry="95" fill="url(#spot)" clip-path="url(#cl169)"/>
<path d="M1186,894.5 L1241.5,887.5 L1241.5,1161 L1186,1167.5 z" fill="url(#cont)"/>
<clipPath id="cl172"><path d="M1186,894.5 L1241.5,887.5 L1241.5,1161 L1186,1167.5 z"/></clipPath>
<ellipse cx="1213" cy="1029" rx="46" ry="95" fill="url(#spot)" clip-path="url(#cl172)"/>
<rect x="915" y="1034.8" width="271" height="52.5" fill="url(#band)"/>
<path d="M856.5,1168.5 V893 H1186 L1242.6,885.4 V1161.6 L1186,1168.5 z" fill="none" stroke="#7F7F7F" stroke-width="3.6" stroke-linejoin="round"/>
<path d="M788,1147 H856 M1243,1125.3 H1314.5" fill="none" stroke="#7F7F7F" stroke-width="3.6"/>
<path d="M1276.7,1110 V850.6 H1233" fill="none" stroke="#FF8F8F" stroke-width="5.6"/>
<path d="M1234.6,839.6 v22 L1213,850.6 z" fill="#FF8F8F"/>
<path d="M822.4,1147 V1227.8 H861" fill="none" stroke="#5EA6D2" stroke-width="5.6"/>
<path d="M860,1217 v21.6 L882,1227.8 z" fill="#5EA6D2"/>
<text x="940.1" y="847" font-size="36.6" fill="#FF8F8F" stroke="#FF8F8F" stroke-width="0.4"><tspan font-style="italic">I</tspan><tspan font-size="25" dy="5.7" dx="-1.07">electron</tspan><tspan font-size="36.2" dy="-5.7" dx="6.5">thermal</tspan></text>
<text x="853.1" y="1279" font-size="36.6" fill="#0D6783" stroke="#0D6783" stroke-width="0.4"><tspan font-style="italic">I</tspan><tspan font-size="25" dy="5.7" dx="-1.07">hole</tspan><tspan font-size="36.2" dy="-5.7" dx="6.5">thermal</tspan></text>
<path d="M1538.5,894 L1590,952 L1590,1223.5 L1538.5,1168.5 z" fill="url(#cont)"/>
<clipPath id="cl184"><path d="M1538.5,894 L1590,952 L1590,1223.5 L1538.5,1168.5 z"/></clipPath>
<ellipse cx="1564" cy="1060" rx="46" ry="95" fill="url(#spot)" clip-path="url(#cl184)"/>
<path d="M1867,952 L1921.5,888 L1921.5,1161 L1867,1223.5 z" fill="url(#cont)"/>
<clipPath id="cl187"><path d="M1867,952 L1921.5,888 L1921.5,1161 L1867,1223.5 z"/></clipPath>
<ellipse cx="1894" cy="1055" rx="46" ry="95" fill="url(#spot)" clip-path="url(#cl187)"/>
<rect x="1593" y="1093" width="273" height="53" fill="url(#band)"/>
<path d="M1537.2,1169 V892 L1590.6,951.4 H1866.4 L1922.6,885.8 V1161 L1868.4,1224.8 H1589.8 z" fill="none" stroke="#7F7F7F" stroke-width="3.6" stroke-linejoin="round"/>
<path d="M1468,1147.1 H1537 M1925.3,1124.9 H1994.5" fill="none" stroke="#7F7F7F" stroke-width="3.6"/>
<path d="M1539.4,891.4 L1592.6,1125 M1589.1,1124.8 H1867.4 M1922.4,886.5 L1867.5,1125" fill="none" stroke="#7F7F7F" stroke-width="3.6" stroke-dasharray="14.7 10.9"/>
<path d="M1537.5,1169 L1589.8,1398.4 H1869.9 L1922.3,1161" fill="none" stroke="#7F7F7F" stroke-width="3.6" stroke-dasharray="14.7 10.9"/>
<path d="M1961.3,975 V787.5 H1944" fill="none" stroke="#FF8F8F" stroke-width="5.4"/>
<path d="M1945.8,776.6 v21.8 L1924.4,787.5 z" fill="#FF8F8F"/>
<path d="M1950,920 H1884" fill="none" stroke="#FF8F8F" stroke-width="5.4"/>
<path d="M1885.2,909.1 v21.8 L1863.4,920 z" fill="#FF8F8F"/>
<path d="M1516,1148.5 V1236.4 H1536" fill="none" stroke="#5EA6D2" stroke-width="5.4"/>
<path d="M1535.2,1225.5 v21.8 L1557.6,1236.4 z" fill="#5EA6D2"/>
<path transform="translate(1581.6,1125.4) rotate(45.4)" fill="#0275B9" d="M-0.6,-1 L-23.2,-3.4 L-22.8,-19.2 C-22.8,-23.6 -24.8,-25.8 -27.8,-25.6 C-31,-25.3 -32.6,-22.6 -33.3,-19.3 C-33.8,-17 -34.3,-14.6 -35,-12.8 L-59,-10.4 C-60.5,-12 -62,-14.5 -63,-16.6 C-63.8,-18.7 -65.3,-20 -67,-20 C-69,-20 -70.3,-18.6 -70.3,-16.5 L-70.3,16.5 C-70.3,18.6 -69,20 -67,20 C-65.3,20 -63.8,18.7 -63,16.6 C-62,14.5 -60.5,12 -59,10.4 L-35,12.8 C-34.3,14.6 -33.8,17 -33.3,19.3 C-32.6,22.6 -31,25.3 -27.8,25.6 C-24.8,25.8 -22.8,23.6 -22.8,19.2 L-23.2,3.4 L-0.6,1 Q0.6,0 -0.6,-1 z"/>
<text x="1635.8" y="903.5" font-size="36.6" fill="#FF8F8F" stroke="#FF8F8F" stroke-width="0.4"><tspan font-style="italic">I</tspan><tspan font-size="25" dy="5.7" dx="-1.07">electron</tspan><tspan font-size="36.2" dy="-5.7" dx="6.5">tunneling</tspan></text>
<text x="1577.9" y="1268" font-size="36.6" fill="#0D6783" stroke="#0D6783" stroke-width="0.4"><tspan font-style="italic">I</tspan><tspan font-size="25" dy="5.7" dx="-1.07">hole</tspan><tspan font-size="36.2" dy="-5.7" dx="6.5">thermal</tspan></text>
<text x="1733" y="1041" font-size="37" fill="#158BB2" text-anchor="middle" stroke="#158BB2" stroke-width="0.4">NO Doping</text>
<text x="1733" y="1085" font-size="37" fill="#158BB2" text-anchor="middle" stroke="#158BB2" stroke-width="0.4">Band</text>
</g>
</svg></body></html>
